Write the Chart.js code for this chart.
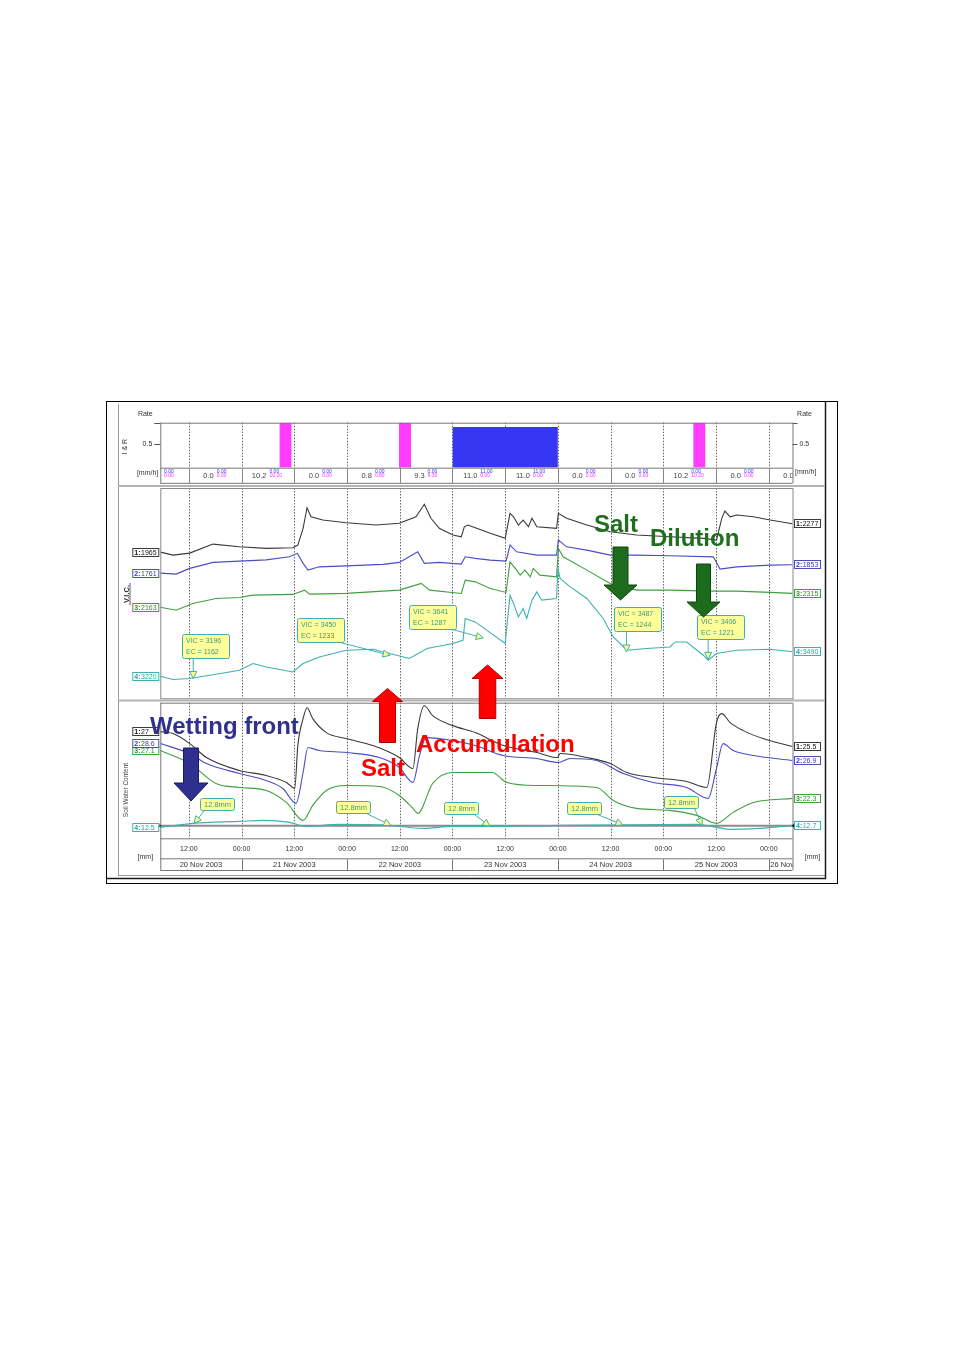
<!DOCTYPE html>
<html>
<head>
<meta charset="utf-8">
<title>Soil sensor record 20-26 Nov 2003</title>
<script src="https://cdn.jsdelivr.net/npm/chart.js"></script>
<style>
    html, body { margin: 0; padding: 0; background: #fff; }
    #page { position: relative; width: 954px; height: 1348px; overflow: hidden; background: #fff; }
    #page canvas { position: absolute; }
</style>
</head>
<body>
<div id="page">
    <canvas id="rateChart" width="750" height="92" style="left:100px;top:395px;width:750px;height:92px"></canvas>
    <canvas id="vicChart" width="750" height="214" style="left:100px;top:487px;width:750px;height:214px"></canvas>
    <canvas id="swcChart" width="750" height="189" style="left:100px;top:701px;width:750px;height:189px"></canvas>
</div>
<script>
// ---- time axis (hours from 20 Nov 2003 00:00) ----
const X_MIN = 5.5;
const X_MAX = 149.4;
const tickHours = [12, 24, 36, 48, 60, 72, 84, 96, 108, 120, 132, 144];
const tickLabels = ['12:00', '00:00', '12:00', '00:00', '12:00', '00:00', '12:00', '00:00', '12:00', '00:00', '12:00', '00:00'];
const dayStarts = [0, 24, 48, 72, 96, 120, 144];
const dayLabels = ['20 Nov 2003', '21 Nov 2003', '22 Nov 2003', '23 Nov 2003', '24 Nov 2003', '25 Nov 2003', '26 Nov 2003'];

// ---- I & R panel: 12 h totals [mm] ----
const periodStarts = [0, 12, 24, 36, 48, 60, 72, 84, 96, 108, 120, 132, 144];
const periodTotal = [0.0, 0.0, 10.2, 0.0, 0.8, 9.3, 11.0, 11.0, 0.0, 0.0, 10.2, 0.0, 0.0];
const periodIrr = [0, 0, 0, 0, 0, 0, 11.0, 11.0, 0, 0, 0, 0, 0];
const periodRain = [0, 0, 10.2, 0, 0.8, 9.3, 0, 0, 0, 0, 10.2, 0, 0];

// rate events [mm/h]
const irrStart = [72.0];
const irrEnd = [96.0];
const irrRate = [0.87];
const rainStart = [32.6, 59.8, 126.8];
const rainEnd = [35.4, 62.6, 129.6];
const rainRate = [3.6, 3.3, 3.6];

// ---- V.I.C. sensors 1-4 : [hour, value] ----
const vic1 = [[5.5,1965],[8.4,1932],[12.2,1954],[17.5,2053],[23.5,2023],[29.6,2006],[35.7,2012],[36.8,2042],[38.0,2226],[38.9,2452],[39.8,2353],[42.5,2317],[47.8,2287],[54.6,2262],[59.9,2281],[63.7,2353],[65.6,2490],[67.1,2336],[69.0,2226],[72.1,2152],[74.0,2133],[74.7,2243],[75.5,2262],[77.2,2232],[80.6,2171],[84.0,2116],[85.1,2391],[85.9,2353],[87.0,2262],[88.1,2317],[89.3,2243],[90.1,2336],[91.2,2243],[95.7,2226],[96.1,2391],[98.0,2336],[102.6,2262],[107.9,2188],[113.9,2152],[121.5,2133],[129.1,2116],[132.1,2097],[133.3,2336],[134.0,2416],[135.2,2353],[136.7,2372],[140.5,2353],[144.3,2317],[149.4,2277]];
const vic2 = [[5.5,1761],[9.1,1750],[12.2,1813],[17.5,1879],[23.5,1893],[29.6,1907],[34.9,1940],[36.7,1978],[38.0,1868],[39.1,1794],[41.7,1830],[47.8,1841],[56.2,1857],[59.9,1879],[64.1,1995],[65.6,1868],[69.0,1879],[74.0,1860],[74.9,1940],[77.2,1923],[80.6,1904],[84.2,1893],[85.1,2069],[86.6,1995],[91.2,1959],[95.7,1959],[96.1,2124],[98.0,2050],[102.6,2014],[107.9,1959],[113.9,1959],[121.5,1951],[131.4,1940],[132.9,1805],[136.7,1830],[144.3,1849],[149.4,1853]];
const vic3 = [[5.5,2163],[9.1,2130],[12.9,2204],[18.2,2259],[23.5,2270],[26.6,2295],[35.7,2303],[38.3,2350],[39.5,2306],[47.8,2314],[59.9,2350],[64.9,2424],[66.8,2350],[74.0,2314],[74.9,2460],[77.2,2441],[80.6,2369],[84.2,2325],[85.1,2661],[86.3,2589],[87.4,2515],[88.5,2570],[89.7,2496],[90.4,2589],[91.9,2515],[95.7,2496],[96.1,2809],[97.2,2716],[102.6,2570],[107.9,2424],[113.9,2350],[121.5,2350],[130.6,2339],[136.7,2339],[144.3,2325],[149.4,2315]];
const vic4 = [[5.5,3220],[8.4,3184],[12.2,3195],[18.2,3242],[23.5,3286],[26.6,3360],[29.6,3322],[35.7,3267],[38.0,3360],[41.7,3432],[47.8,3506],[53.9,3517],[57.7,3470],[62.2,3415],[66.2,3525],[72.1,3580],[74.4,3616],[74.9,3855],[77.2,3817],[84.0,3580],[85.1,4111],[85.9,4020],[87.0,3872],[88.1,3965],[88.9,3855],[90.1,4056],[91.2,4147],[92.3,4056],[95.7,4075],[96.0,4405],[96.5,4295],[98.8,4202],[102.6,4075],[106.3,3855],[108.6,3652],[111.7,3506],[116.2,3525],[121.5,3542],[122.7,3597],[125.3,3597],[129.1,3451],[130.2,3396],[132.1,3470],[136.7,3506],[144.3,3517],[149.4,3490]];

// ---- soil water content sensors 1-4 : [hour, %] ----
const swc1 = [[5.5,27.0],[8.4,26.8],[12.2,25.8],[16.0,24.4],[23.5,23.1],[29.6,22.6],[34.2,21.9],[36.1,21.3],[36.8,25.6],[38.0,28.3],[38.9,29.4],[40.2,28.3],[43.3,26.9],[47.8,26.3],[53.9,25.6],[59.9,24.4],[63.0,23.3],[64.1,27.3],[65.6,29.6],[67.5,28.6],[72.1,27.6],[77.2,26.9],[83.6,25.6],[91.2,24.9],[95.9,24.4],[96.5,24.8],[102.6,24.4],[107.9,23.8],[111.7,22.9],[117.7,22.4],[125.3,22.0],[129.9,21.4],[132.1,27.9],[133.3,28.8],[135.2,27.9],[138.2,27.1],[142.7,26.3],[149.4,25.5]];
const swc2 = [[5.5,28.6],[12.2,27.6],[16.0,26.6],[23.5,25.6],[29.6,24.9],[33.4,24.1],[36.4,22.6],[38.0,25.7],[39.1,28.2],[41.7,27.9],[47.8,27.7],[55.4,27.2],[59.9,26.2],[63.0,24.7],[64.5,27.4],[66.0,29.2],[72.1,28.9],[77.2,28.4],[83.6,27.4],[91.2,27.1],[96.1,26.7],[98.8,27.1],[104.8,26.9],[110.9,25.6],[117.7,24.7],[125.3,24.2],[130.2,23.1],[132.1,26.1],[133.6,28.6],[135.9,27.9],[140.5,27.4],[149.4,26.9]];
const swc3 = [[5.5,27.1],[12.2,25.8],[18.2,23.8],[23.5,23.4],[29.6,23.1],[34.2,21.9],[38.0,20.1],[40.2,21.6],[43.3,23.1],[47.8,23.6],[55.4,23.5],[59.9,22.6],[63.0,21.3],[64.1,20.8],[67.5,23.8],[72.1,24.9],[81.0,24.9],[84.4,23.9],[91.2,23.6],[104.8,23.4],[108.6,22.1],[113.9,21.3],[121.5,21.1],[127.6,20.6],[132.1,19.8],[135.9,20.9],[140.5,21.9],[149.4,22.3]];
const swc4 = [[5.5,12.5],[12.9,12.9],[23.5,13.1],[28.9,13.2],[34.9,13.0],[38.7,12.6],[46.3,12.8],[57.7,12.7],[65.3,12.4],[72.1,12.6],[82.8,12.6],[96.5,12.7],[127.6,12.8],[132.1,12.5],[135.2,12.3],[142.0,12.4],[149.4,12.7]];
const swcRefLevel = 12.65;

// ---- call-outs ----
const noteHours = [13.0, 57.8, 79.0, 111.6, 130.2];
const noteVIC = [3196, 3450, 3641, 3487, 3406];
const noteEC = [1162, 1233, 1287, 1244, 1221];
const mmHours = [13.2, 58.0, 80.5, 110.8, 128.8];
const mmAmount = [12.8, 12.8, 12.8, 12.8, 12.8];

// each sensor has its own scale, like the logger software
const vicAxisMin = [359, 386, 1162, 2978];
const vicAxisSpan = 2310;
const swcAxisMin = [16.3, 19.1, 18.3, 11.4];
const swcAxisSpan = 13.6;

const SERIES_COLORS = ['#3a3a3a', '#4c4cc4', '#3f9f3f', '#3fb0b0'];
const TAG_TEXT = ['#111', '#3c3cb4', '#2f8f2f', '#2fa0a0'];
const NOTE_BORDER = '#3fb0b0';
const NOTE_TEXT = '#3a9a84';
const F = '"Liberation Sans", Arial, sans-serif';

// ---------- drawing helpers (page coordinates) ----------
function onPage(chart, fn) {
    const ctx = chart.ctx;
    ctx.save();
    ctx.translate(-chart.canvas.offsetLeft, -chart.canvas.offsetTop);
    fn(ctx, chart);
    ctx.restore();
}
function px(chart, h) { return chart.scales.x.getPixelForValue(h) + chart.canvas.offsetLeft; }
function py(chart, id, v) { return chart.scales[id].getPixelForValue(v) + chart.canvas.offsetTop; }
function area(chart) {
    const a = chart.chartArea, ox = chart.canvas.offsetLeft, oy = chart.canvas.offsetTop;
    return { L: a.left + ox, R: a.right + ox, T: a.top + oy, B: a.bottom + oy };
}
function line(ctx, x1, y1, x2, y2, color, width, dash) {
    ctx.save();
    ctx.strokeStyle = color;
    ctx.lineWidth = width || 1;
    ctx.setLineDash(dash || []);
    ctx.beginPath();
    ctx.moveTo(x1, y1);
    ctx.lineTo(x2, y2);
    ctx.stroke();
    ctx.restore();
}
function text(ctx, s, x, y, font, color, align) {
    ctx.font = font;
    ctx.fillStyle = color;
    ctx.textAlign = align || 'left';
    ctx.textBaseline = 'middle';
    ctx.fillText(s, x, y);
}
function vtext(ctx, s, x, y, font, color) {
    ctx.save();
    ctx.translate(x, y);
    ctx.rotate(-Math.PI / 2);
    text(ctx, s, 0, 0, font, color, 'center');
    ctx.restore();
}
function grid(ctx, chart, top, bottom) {
    tickHours.forEach(h => {
        const x = Math.round(px(chart, h)) + 0.5;
        line(ctx, x, top, x, bottom, '#666', 1, [1.5, 1.5]);
    });
}
function valueAt(series, h) {
    for (let i = 1; i < series.length; i++) {
        if (series[i][0] >= h) {
            const a = series[i - 1], b = series[i];
            return a[1] + (b[1] - a[1]) * (h - a[0]) / (b[0] - a[0]);
        }
    }
    return series[series.length - 1][1];
}
function tag(ctx, x, y, num, value, i) {
    const w = 27, h = 9, top = Math.round(y - h / 2);
    ctx.fillStyle = '#fff';
    ctx.fillRect(x, top, w, h);
    ctx.strokeStyle = SERIES_COLORS[i];
    ctx.lineWidth = 1;
    ctx.strokeRect(x + 0.5, top + 0.5, w - 1, h - 1);
    text(ctx, num + ':', x + 2, top + 5, 'bold 7px ' + F, TAG_TEXT[i]);
    const sw = ctx.measureText(num + ':').width;
    text(ctx, value, x + 2.5 + sw, top + 5, '7px ' + F, TAG_TEXT[i]);
}
function drawTags(ctx, chart, series, ids, fmt) {
    const a = area(chart);
    for (let i = series.length - 1; i >= 0; i--) {
        const s = series[i];
        tag(ctx, a.L - 28, py(chart, ids[i], s[0][1]), i + 1, fmt(s[0][1]), i);
        tag(ctx, a.R + 1.5, py(chart, ids[i], s[s.length - 1][1]), i + 1, fmt(s[s.length - 1][1]), i);
    }
}
function roundRect(ctx, x, y, w, h, r) {
    ctx.beginPath();
    ctx.moveTo(x + r, y);
    ctx.lineTo(x + w - r, y); ctx.quadraticCurveTo(x + w, y, x + w, y + r);
    ctx.lineTo(x + w, y + h - r); ctx.quadraticCurveTo(x + w, y + h, x + w - r, y + h);
    ctx.lineTo(x + r, y + h); ctx.quadraticCurveTo(x, y + h, x, y + h - r);
    ctx.lineTo(x, y + r); ctx.quadraticCurveTo(x, y, x + r, y);
    ctx.closePath();
}
function callout(ctx, tipX, tipY, off, w, h, lines, font) {
    const bx = Math.round(tipX + off[0]) + 0.5, by = Math.round(tipY + off[1]) + 0.5;
    const sx = Math.min(Math.max(tipX, bx + 4), bx + w - 4), sy = by + h;
    line(ctx, sx, sy, tipX, tipY, NOTE_BORDER, 1);
    const dx = tipX - sx, dy = tipY - sy, d = Math.hypot(dx, dy) || 1;
    const ux = dx / d, uy = dy / d, bxm = tipX - ux * 7, bym = tipY - uy * 7;
    ctx.beginPath();
    ctx.moveTo(tipX, tipY);
    ctx.lineTo(bxm - uy * 3.5, bym + ux * 3.5);
    ctx.lineTo(bxm + uy * 3.5, bym - ux * 3.5);
    ctx.closePath();
    ctx.fillStyle = '#ffff80'; ctx.fill();
    ctx.strokeStyle = NOTE_BORDER; ctx.lineWidth = 1; ctx.stroke();
    roundRect(ctx, bx, by, w, h, 2);
    ctx.fillStyle = '#ffff99'; ctx.fill();
    ctx.strokeStyle = NOTE_BORDER; ctx.stroke();
    lines.forEach((s, k) => {
        if (lines.length === 1) text(ctx, s, bx + w / 2, by + h / 2 + 0.5, font, NOTE_TEXT, 'center');
        else text(ctx, s, bx + 3.5, by + 7 + k * 10.5, font, NOTE_TEXT);
    });
}
function blockArrow(ctx, tipX, tipY, dir, shaftW, headW, headLen, len, fill, stroke) {
    const baseY = tipY - dir * headLen, endY = tipY - dir * len;
    ctx.beginPath();
    ctx.moveTo(tipX, tipY);
    ctx.lineTo(tipX + headW / 2, baseY);
    ctx.lineTo(tipX + shaftW / 2, baseY);
    ctx.lineTo(tipX + shaftW / 2, endY);
    ctx.lineTo(tipX - shaftW / 2, endY);
    ctx.lineTo(tipX - shaftW / 2, baseY);
    ctx.lineTo(tipX - headW / 2, baseY);
    ctx.closePath();
    ctx.fillStyle = fill; ctx.fill();
    ctx.strokeStyle = stroke; ctx.lineWidth = 1; ctx.stroke();
}

// frame, separators and the hand-drawn annotations (spans all three canvases)
function drawOverlay(ctx) {
    ctx.strokeStyle = '#000';
    ctx.lineWidth = 1;
    ctx.strokeRect(106.5, 401.5, 731, 482);
    line(ctx, 118.5, 404, 118.5, 876, '#9a9a9a', 1);
    line(ctx, 118, 875.5, 825, 875.5, '#9a9a9a', 1);
    line(ctx, 825.5, 402, 825.5, 879, '#1a1a1a', 1.5);
    line(ctx, 106, 878.5, 826, 878.5, '#1a1a1a', 1.5);
    line(ctx, 118, 486, 825, 486, '#b4b4b4', 2);
    line(ctx, 118, 700.5, 825, 700.5, '#b4b4b4', 2);

    const big = 'bold 24px ' + F;
    blockArrow(ctx, 620.5, 600, 1, 15, 33, 15, 53, '#1d6b1d', '#0f480f');
    blockArrow(ctx, 703.5, 617, 1, 14, 33, 15, 53, '#1d6b1d', '#0f480f');
    blockArrow(ctx, 387.5, 688.5, -1, 16, 30, 13, 54, '#ff0000', '#b00000');
    blockArrow(ctx, 487.5, 665, -1, 16.5, 31, 13.5, 53.5, '#ff0000', '#b00000');
    blockArrow(ctx, 191, 801, 1, 15, 34, 18, 53, '#2f2f8f', '#1a1a60');
    ctx.textBaseline = 'alphabetic';
    ctx.textAlign = 'left';
    ctx.font = big;
    ctx.fillStyle = '#1f6f1f';
    ctx.fillText('Salt', 594, 532);
    ctx.fillText('Dilution', 650, 546);
    ctx.fillStyle = '#ff0000';
    ctx.fillText('Accumulation', 416, 752);
    ctx.fillText('Salt', 361, 776);
    ctx.fillStyle = '#30308f';
    ctx.fillText('Wetting front', 150, 734);
}

function pagePlugin(under, over) {
    return {
        id: 'page',
        beforeDatasetsDraw(chart) { onPage(chart, under); },
        afterDraw(chart) { onPage(chart, over); onPage(chart, drawOverlay); }
    };
}

function baseOptions(padding, yScales) {
    return {
        responsive: false,
        animation: false,
        events: [],
        layout: { padding: padding },
        plugins: { legend: { display: false }, tooltip: { enabled: false } },
        scales: Object.assign({ x: { type: 'linear', min: X_MIN, max: X_MAX, display: false } }, yScales)
    };
}
function seriesSet(data, axis, color, smooth) {
    const ds = { data: data, yAxisID: axis, borderColor: color, borderWidth: 1.1, pointRadius: 0, tension: 0, fill: false };
    if (smooth) ds.cubicInterpolationMode = 'monotone';
    return ds;
}

// ---------- I & R rate panel ----------
function renderRateChart() {
    const bars = [];
    rainStart.forEach((s, i) => bars.push({
        data: [[s, rainRate[i]], [rainEnd[i], rainRate[i]]], yAxisID: 'y',
        backgroundColor: '#ff3cff', borderWidth: 0, pointRadius: 0, fill: 'origin'
    }));
    irrStart.forEach((s, i) => bars.push({
        data: [[s, irrRate[i]], [irrEnd[i], irrRate[i]]], yAxisID: 'y',
        backgroundColor: '#3636f4', borderWidth: 0, pointRadius: 0, fill: 'origin'
    }));

    const under = (ctx, chart) => { const a = area(chart); grid(ctx, chart, a.T, a.B); };
    const over = (ctx, chart) => {
        const a = area(chart), rowB = a.B + 15.6, c = '#777';
        line(ctx, a.L, a.T + 0.5, a.R, a.T + 0.5, c);
        line(ctx, a.L, a.B + 0.5, a.R, a.B + 0.5, c);
        line(ctx, a.L, rowB, a.R, rowB, c);
        line(ctx, a.L + 0.5, a.T, a.L + 0.5, rowB, c);
        line(ctx, a.R + 0.5, a.T, a.R + 0.5, rowB, c);
        tickHours.forEach(h => { const x = Math.round(px(chart, h)) + 0.5; line(ctx, x, a.B, x, rowB, '#888'); });

        const small = '7px ' + F;
        [0.5, chart.scales.y.max].forEach(v => {
            const y = Math.round(py(chart, 'y', v)) + 0.5;
            line(ctx, a.L - 6, y, a.L, y, '#555');
            line(ctx, a.R, y, a.R + 5, y, '#555');
        });
        const y5 = py(chart, 'y', 0.5);
        text(ctx, '0.5', a.L - 8, y5, small, '#333', 'right');
        text(ctx, '0.5', a.R + 7, y5, small, '#333', 'left');
        text(ctx, 'Rate', a.L - 15, 414.5, small, '#333', 'center');
        text(ctx, 'Rate', a.R + 12, 414.5, small, '#333', 'center');
        text(ctx, '[mm/h]', a.L - 2, a.B + 5, small, '#333', 'right');
        text(ctx, '[mm/h]', a.R + 2.5, a.B + 4, small, '#333', 'left');
        vtext(ctx, 'I & R', 125, py(chart, 'y', 0.45), small, '#333');

        ctx.save();
        ctx.beginPath();
        ctx.rect(a.L + 1, a.B + 1, a.R - a.L - 1, 14.5);
        ctx.clip();
        periodStarts.forEach((p, i) => {
            const cx = px(chart, p + 6);
            text(ctx, periodTotal[i].toFixed(1), cx - 1.5, a.B + 8.3, '7.5px ' + F, '#444', 'right');
            text(ctx, periodIrr[i].toFixed(2), cx + 1.5, a.B + 3.6, '5px ' + F, '#3333ff', 'left');
            text(ctx, periodRain[i].toFixed(2), cx + 1.5, a.B + 8.4, '5px ' + F, '#ff33ff', 'left');
        });
        ctx.restore();
    };

    new Chart(document.getElementById('rateChart'), {
        type: 'line',
        data: { datasets: bars },
        options: baseOptions({ left: 60.3, right: 57.5, top: 27.7, bottom: 19.3 },
            { y: { type: 'linear', min: 0, max: 0.96, display: false } }),
        plugins: [pagePlugin(under, over)]
    });
}

// ---------- V.I.C. panel ----------
function renderVicChart() {
    const ids = ['v1', 'v2', 'v3', 'v4'];
    const series = [vic1, vic2, vic3, vic4];
    const yScales = {};
    ids.forEach((id, i) => { yScales[id] = { type: 'linear', display: false, min: vicAxisMin[i], max: vicAxisMin[i] + vicAxisSpan }; });

    const noteOffsets = [[-11, -44], [-93, -37], [-74, -33], [-12, -45], [-11, -44]];
    const under = (ctx, chart) => { const a = area(chart); grid(ctx, chart, a.T, a.B); };
    const over = (ctx, chart) => {
        const a = area(chart);
        ctx.strokeStyle = '#888';
        ctx.lineWidth = 1;
        ctx.strokeRect(a.L + 0.5, a.T + 0.5, a.R - a.L, a.B - a.T);
        drawTags(ctx, chart, series, ids, v => String(Math.round(v)));
        noteHours.forEach((h, i) => {
            callout(ctx, px(chart, h), py(chart, 'v4', noteVIC[i]), noteOffsets[i], 47, 24,
                ['VIC = ' + noteVIC[i], 'EC = ' + noteEC[i]], '7px ' + F);
        });
        vtext(ctx, 'V.I.C.', 126.5, 594, 'bold 7.5px ' + F, '#333');
        line(ctx, 130, 583, 130, 605, '#333', 0.8);
    };

    new Chart(document.getElementById('vicChart'), {
        type: 'line',
        data: { datasets: [3, 2, 1, 0].map(i => seriesSet(series[i], ids[i], SERIES_COLORS[i], false)) },
        options: baseOptions({ left: 60.3, right: 57.5, top: 1, bottom: 2.7 }, yScales),
        plugins: [pagePlugin(under, over)]
    });
}

// ---------- soil water content panel ----------
function renderSwcChart() {
    const ids = ['s1', 's2', 's3', 's4'];
    const series = [swc1, swc2, swc3, swc4];
    const yScales = {};
    ids.forEach((id, i) => { yScales[id] = { type: 'linear', display: false, min: swcAxisMin[i], max: swcAxisMin[i] + swcAxisSpan }; });

    const mmOffsets = [[6, -25], [-55, -24], [-46, -24], [-56, -23], [-38, -29]];
    const under = (ctx, chart) => {
        const a = area(chart);
        grid(ctx, chart, a.T, a.B);
        const y = py(chart, 's4', swcRefLevel);
        line(ctx, a.L, y, a.R, y, '#8c8c8c', 2);
    };
    const over = (ctx, chart) => {
        const a = area(chart), row1 = a.B + 20, row2 = a.B + 31.7, c = '#777';
        line(ctx, a.L, a.T + 0.5, a.R, a.T + 0.5, c);
        line(ctx, a.L + 0.5, a.T, a.L + 0.5, row2, c);
        line(ctx, a.R + 0.5, a.T, a.R + 0.5, row2, c);
        line(ctx, a.L, a.B + 0.5, a.R, a.B + 0.5, c);
        line(ctx, a.L, row1 + 0.5, a.R, row1 + 0.5, c);
        line(ctx, a.L, row2 + 0.5, a.R, row2 + 0.5, c);

        const yRef = py(chart, 's4', swcRefLevel);
        [[a.L, 1], [a.R, -1]].forEach(([x, d]) => {
            ctx.beginPath();
            ctx.moveTo(x + d * 1, yRef);
            ctx.lineTo(x - d * 3, yRef - 3);
            ctx.lineTo(x - d * 3, yRef + 3);
            ctx.closePath();
            ctx.fillStyle = '#111';
            ctx.fill();
        });

        const small = '7px ' + F;
        tickHours.forEach((h, i) => text(ctx, tickLabels[i], px(chart, h), a.B + 11, small, '#333', 'center'));

        ctx.save();
        ctx.beginPath();
        ctx.rect(a.L + 1, row1 + 1, a.R - a.L - 1, row2 - row1 - 1);
        ctx.clip();
        dayStarts.forEach((d, i) => {
            const left = Math.max(a.L, px(chart, d)), right = Math.min(a.R, px(chart, d + 24));
            if (right - left < 2) return;
            if (d > X_MIN) line(ctx, Math.round(left) + 0.5, row1, Math.round(left) + 0.5, row2, '#777');
            ctx.font = '7.5px ' + F;
            const w = ctx.measureText(dayLabels[i]).width;
            const x = Math.max(left + 1.5, (left + right) / 2 - w / 2);
            text(ctx, dayLabels[i], x, row1 + 6.2, '7.5px ' + F, '#333', 'left');
        });
        ctx.restore();

        text(ctx, '[mm]', a.L - 15, row1 - 1, small, '#333', 'center');
        text(ctx, '[mm]', a.R + 20, row1 - 1.5, small, '#333', 'center');
        vtext(ctx, 'Soil Water Content', 126.5, 790, '6.5px ' + F, '#444');

        drawTags(ctx, chart, series, ids, v => String(Number(v.toFixed(1))));
        mmHours.forEach((h, i) => {
            callout(ctx, px(chart, h), py(chart, 's4', valueAt(swc4, h)), mmOffsets[i], 34, 12,
                [mmAmount[i].toFixed(1) + 'mm'], '7.5px ' + F);
        });
    };

    new Chart(document.getElementById('swcChart'), {
        type: 'line',
        data: { datasets: [3, 2, 1, 0].map(i => seriesSet(series[i], ids[i], SERIES_COLORS[i], true)) },
        options: baseOptions({ left: 60.3, right: 57.5, top: 1.7, bottom: 51.7 }, yScales),
        plugins: [pagePlugin(under, over)]
    });
}

renderRateChart();
renderVicChart();
renderSwcChart();
</script>
</body>
</html>
